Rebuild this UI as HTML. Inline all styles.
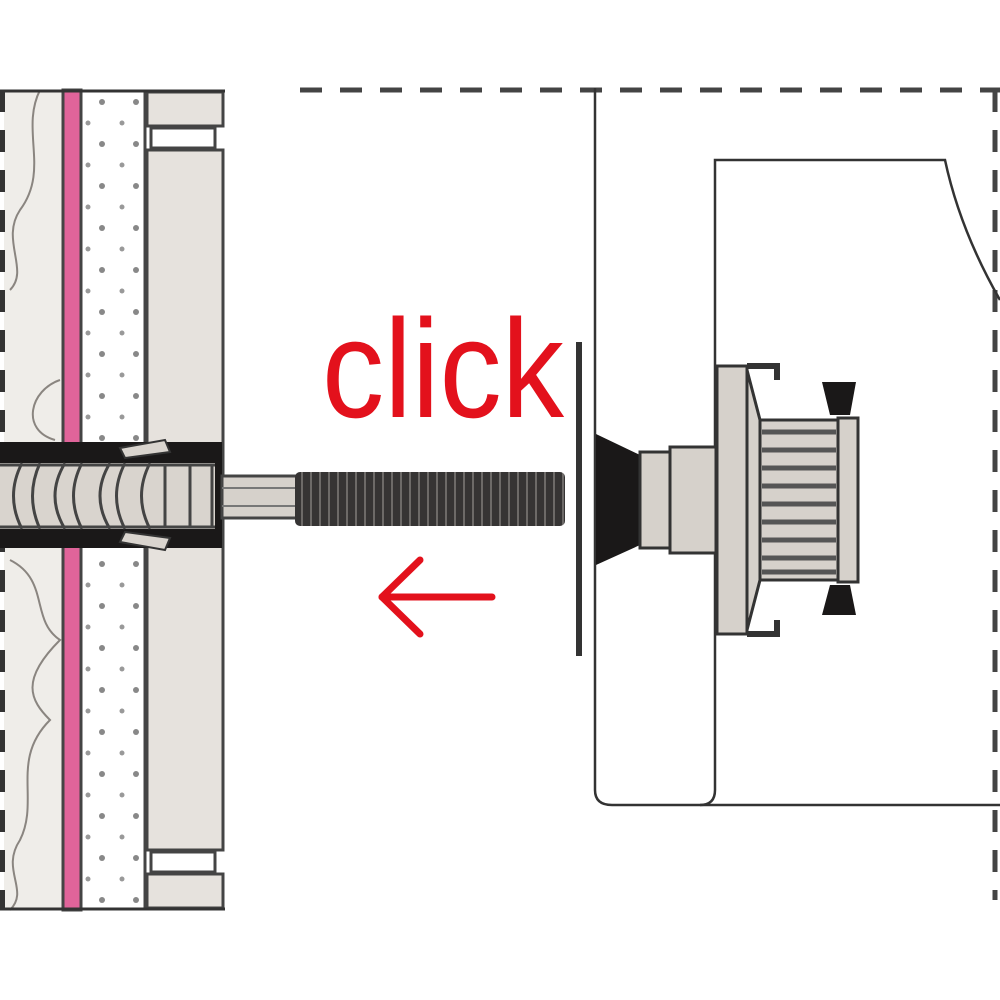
<!DOCTYPE html>
<html><head><style>html,body{margin:0;padding:0;background:#fff}svg{display:block}</style></head>
<body>
<svg width="1000" height="1000" viewBox="0 0 1000 1000" xmlns="http://www.w3.org/2000/svg">
<defs>
<pattern id="dots" width="34" height="42" patternUnits="userSpaceOnUse" x="84" y="90">
<circle cx="18" cy="12" r="3" fill="#888"/><circle cx="4" cy="33" r="2.5" fill="#999"/>
</pattern>
<pattern id="thr" width="9" height="60" patternUnits="userSpaceOnUse">
<rect width="9" height="60" fill="#363434"/><rect x="4" width="2" height="60" fill="#6d6a68"/>
</pattern>
</defs>
<!-- left wall -->
<rect x="0" y="90" width="66" height="820" fill="#efede9"/>
<path d="M40 90 C20 130 50 170 20 210 C0 240 30 270 10 290" stroke="#8a8580" stroke-width="2" fill="none"/>
<path d="M60 380 C30 390 20 430 55 440" stroke="#8a8580" stroke-width="2" fill="none"/>
<path d="M10 560 C50 580 30 620 60 640 C20 680 30 700 50 720 C10 760 40 800 20 840 C0 870 30 890 10 910" stroke="#8a8580" stroke-width="2" fill="none"/>
<rect x="0" y="90" width="4" height="820" fill="#fff"/>
<line x1="2" y1="90" x2="2" y2="910" stroke="#333" stroke-width="6" stroke-dasharray="22 18"/>
<rect x="63" y="90" width="18" height="820" fill="#e0649a" stroke="#444" stroke-width="3"/>
<rect x="82" y="90" width="63" height="820" fill="url(#dots)"/>
<line x1="145" y1="90" x2="145" y2="910" stroke="#444" stroke-width="3"/>
<rect x="147" y="92" width="76" height="34" fill="#e6e2dd" stroke="#444" stroke-width="3"/>
<rect x="151" y="128" width="64" height="20" fill="#fff" stroke="#444" stroke-width="3"/>
<rect x="147" y="150" width="76" height="700" fill="#e6e2dd" stroke="#444" stroke-width="3"/>
<rect x="151" y="852" width="64" height="20" fill="#fff" stroke="#444" stroke-width="3"/>
<rect x="147" y="874" width="76" height="34" fill="#e6e2dd" stroke="#444" stroke-width="3"/>
<line x1="0" y1="91" x2="225" y2="91" stroke="#333" stroke-width="3"/>
<line x1="0" y1="909" x2="225" y2="909" stroke="#333" stroke-width="3"/>
<!-- anchor -->
<rect x="0" y="442" width="222" height="106" fill="#1a1818"/>
<path d="M120 448 L165 440 L170 452 L125 458Z M120 542 L165 550 L170 538 L125 532Z" fill="#d9d4ce" stroke="#333" stroke-width="2"/>
<rect x="0" y="463" width="215" height="66" fill="#d9d4ce"/>
<g stroke="#444" stroke-width="3" fill="none">
<path d="M22 463 Q5 496 22 529 M40 463 Q25 496 40 529 M65 463 Q45 496 65 529 M82 463 Q65 496 82 529 M110 463 Q90 496 110 529 M125 463 Q108 496 125 529 M150 463 Q133 496 150 529"/>
<line x1="165" y1="465" x2="165" y2="527"/><line x1="190" y1="465" x2="190" y2="527"/><line x1="212" y1="465" x2="212" y2="527"/>
<line x1="0" y1="465" x2="215" y2="465"/><line x1="0" y1="527" x2="215" y2="527"/>
</g>
<rect x="222" y="476" width="75" height="42" fill="#d6d1cb" stroke="#444" stroke-width="3"/>
<line x1="222" y1="488" x2="297" y2="488" stroke="#777" stroke-width="2"/>
<line x1="222" y1="506" x2="297" y2="506" stroke="#777" stroke-width="2"/>
<rect x="295" y="472" width="270" height="54" rx="5" fill="url(#thr)"/>
<!-- dashed frame right -->
<line x1="300" y1="90" x2="1000" y2="90" stroke="#444" stroke-width="5" stroke-dasharray="22 18"/>
<line x1="995" y1="90" x2="995" y2="900" stroke="#444" stroke-width="5" stroke-dasharray="22 18"/>
<path d="M595 88 L595 790 Q595 805 612 805 L1000 805" stroke="#333" stroke-width="2.5" fill="none"/>
<path d="M715 790 L715 160 L945 160 Q960 230 1000 300" stroke="#333" stroke-width="2.5" fill="none"/>
<path d="M715 790 Q715 805 700 805" stroke="#333" stroke-width="2.5" fill="none"/>
<!-- click text -->
<text x="322" y="417" font-family="Liberation Sans, sans-serif" font-size="140" fill="#e3111c" textLength="242" lengthAdjust="spacingAndGlyphs">click</text>
<!-- arrow -->
<g stroke="#e3111c" stroke-width="7" fill="none" stroke-linecap="round" stroke-linejoin="round">
<line x1="382" y1="597" x2="492" y2="597"/><polyline points="420,560 382,597 420,634"/>
</g>
<!-- mechanism -->
<rect x="576" y="342" width="6" height="314" fill="#333"/>
<path d="M596 434 L640 455 L640 545 L596 565Z" fill="#1a1818"/>
<rect x="640" y="452" width="30" height="96" fill="#d6d1cb" stroke="#333" stroke-width="3"/>
<rect x="670" y="447" width="46" height="106" fill="#d6d1cb" stroke="#333" stroke-width="3"/>
<rect x="717" y="366" width="30" height="268" fill="#d6d1cb" stroke="#333" stroke-width="3"/>
<path d="M747 366 L777 366 L777 380 M747 634 L777 634 L777 620" stroke="#333" stroke-width="6" fill="none"/>
<path d="M747 370 L760 420 L760 580 L747 630Z" fill="#d6d1cb" stroke="#333" stroke-width="3"/>
<rect x="760" y="420" width="78" height="160" fill="#d6d1cb" stroke="#333" stroke-width="3"/>
<g stroke="#555" stroke-width="5">
<line x1="762" y1="432" x2="836" y2="432"/><line x1="762" y1="450" x2="836" y2="450"/><line x1="762" y1="468" x2="836" y2="468"/><line x1="762" y1="486" x2="836" y2="486"/><line x1="762" y1="504" x2="836" y2="504"/><line x1="762" y1="522" x2="836" y2="522"/><line x1="762" y1="540" x2="836" y2="540"/><line x1="762" y1="558" x2="836" y2="558"/><line x1="762" y1="572" x2="836" y2="572"/>
</g>
<rect x="838" y="418" width="20" height="164" fill="#d6d1cb" stroke="#333" stroke-width="3"/>
<path d="M822 382 L856 382 L850 415 L830 415Z M822 615 L856 615 L850 585 L830 585Z" fill="#1a1818"/>
</svg>
</body></html>
